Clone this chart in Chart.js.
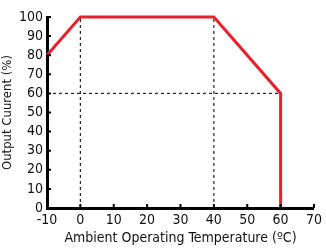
<!DOCTYPE html>
<html><head><meta charset="utf-8">
<script src="https://cdn.jsdelivr.net/npm/chart.js@4"></script>
<style>html,body{margin:0;padding:0;background:#fff}#w{width:326px;height:248px}</style>
</head><body><div id="w"><canvas id="c"></canvas></div>
<script>
const xTicks = [-10, 0, 10, 20, 30, 40, 50, 60, 70];
const yTicks = [0, 10, 20, 30, 40, 50, 60, 70, 80, 90, 100];
const curveX = [-10, 0, 40, 60, 60];
const curveY = [80, 100, 100, 60, 0];
const guide1X = [0, 0];
const guide1Y = [0, 100];
const guide2X = [40, 40];
const guide2Y = [0, 100];
const guide3X = [-10, 60];
const guide3Y = [60, 60];

const pts = (xs, ys) => xs.map((x, i) => ({x, y: ys[i]}));
const FONT = "'DejaVu Sans Condensed',monospace";

const inwardTicks = {
  id: 'inwardTicks',
  afterDraw(chart) {
    const ctx = chart.ctx, xs = chart.scales.x, ys = chart.scales.y, a = chart.chartArea;
    ctx.save();
    ctx.strokeStyle = '#000';
    ctx.lineWidth = 2;
    ctx.beginPath();
    xTicks.forEach(v => { const p = xs.getPixelForValue(v); ctx.moveTo(p, a.bottom); ctx.lineTo(p, a.bottom - 4); });
    yTicks.forEach(v => { const p = ys.getPixelForValue(v); ctx.moveTo(a.left, p); ctx.lineTo(a.left + 4, p); });
    ctx.stroke();
    ctx.restore();
  }
};

const dashed = (xs, ys) => ({
  data: pts(xs, ys), borderColor: '#222', borderWidth: 1.2, borderDash: [3, 3],
  pointRadius: 0, showLine: true, clip: false, order: 2
});

new Chart(document.getElementById('c'), {
  type: 'scatter',
  data: { datasets: [
    dashed(guide1X, guide1Y), dashed(guide2X, guide2Y), dashed(guide3X, guide3Y),
    { data: pts(curveX, curveY), borderColor: '#e8202a', borderWidth: 3, pointRadius: 0,
      showLine: true, clip: false, order: 1, borderJoinStyle: 'miter' }
  ]},
  options: {
    responsive: true, maintainAspectRatio: false, animation: false,
    layout: { padding: { top: 17, right: 7, left: 0, bottom: 0 } },
    plugins: { legend: { display: false }, tooltip: { enabled: false } },
    scales: {
      x: {
        type: 'linear', min: -10, max: 70,
        afterBuildTicks: s => { s.ticks = xTicks.map(v => ({value: v})); },
        afterFit: s => { s.height = 40; },
        grid: { display: false, drawTicks: false },
        border: { display: true, color: '#000', width: 3 },
        ticks: { color: '#111', font: { family: FONT, size: 14 }, padding: 4, maxRotation: 0, autoSkip: false },
        title: { display: true, text: 'Ambient Operating Temperature (ºC)', color: '#111',
                 font: { family: FONT, size: 14 }, padding: { top: 0, bottom: 1 } }
      },
      y: {
        type: 'linear', min: 0, max: 100,
        afterBuildTicks: s => { s.ticks = yTicks.map(v => ({value: v})); },
        afterFit: s => { s.width = 47; },
        grid: { display: false, drawTicks: false },
        border: { display: true, color: '#000', width: 3 },
        ticks: { color: '#111', font: { family: FONT, size: 14 }, padding: 4, autoSkip: false },
        title: { display: true, text: 'Output Cuurent (%)', color: '#111',
                 font: { family: FONT, size: 13 }, padding: { top: 0, bottom: 0 } }
      }
    }
  },
  plugins: [inwardTicks]
});
</script></body></html>
